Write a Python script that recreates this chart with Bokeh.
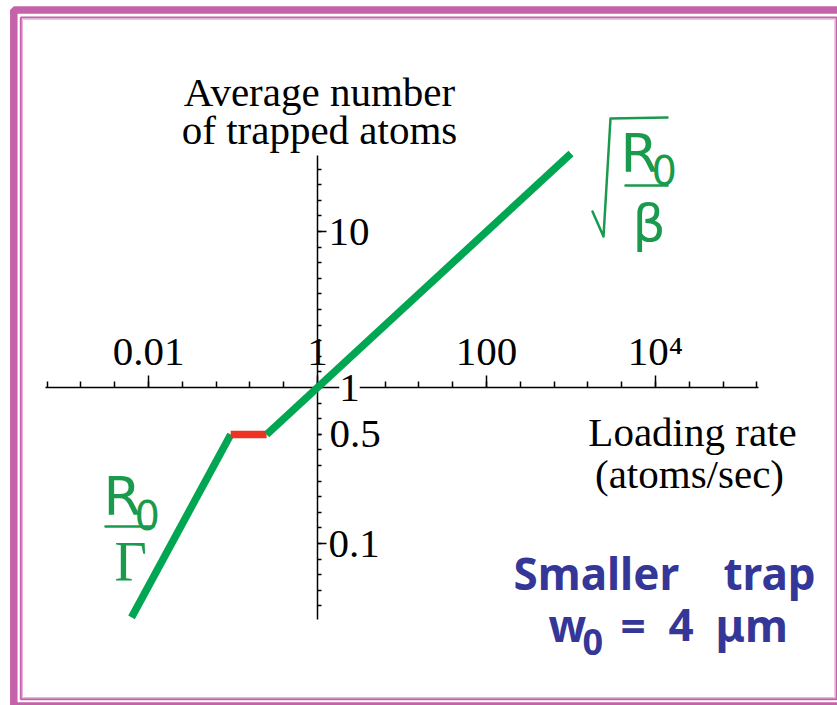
from bokeh.plotting import figure
from bokeh.models import LogAxis, FixedTicker, Range1d, Label, BoxAnnotation
from bokeh.embed import file_html
from bokeh.resources import INLINE

# Average number of trapped atoms vs. loading rate (atoms/sec)
# collisional-blockade regime: N grows linearly, N = R0 / Gamma
rate_linear = [0.0063, 0.094]
atoms_linear = [0.0336, 0.5]
# blockade plateau at N = 0.5
rate_plateau = [0.094, 0.25]
atoms_plateau = [0.5, 0.5]
# high-rate regime: N = sqrt(R0 / beta)
rate_sqrt = [0.25, 1000]
atoms_sqrt = [0.5, 31.6]

x_major = [0.01, 1, 100, 10000]
x_labels = ["0.01", "1", "100", "10⁴"]
y_major = [0.1, 10]
y_labels = ["0.1", "10"]
y_extra = [0.5]
y_extra_labels = ["0.5"]

# ---- page geometry (pixels) ----
W, H = 837, 705
ORIGIN_X, ORIGIN_Y = 317, 387      # where x = 1 and y = 1 sit
X_DEC, Y_DEC = 84.5, 156           # pixels per decade


def px2x(px):
    return 10 ** ((px - ORIGIN_X) / X_DEC)


def px2y(py):
    return 10 ** ((ORIGIN_Y - py) / Y_DEC)


GREEN = "#00a651"
TEXT_GREEN = "#1a9a4c"
RED = "#ee3224"
BLUE = "#343797"
PINK = "#c463a9"
SERIF = "Liberation Serif"
# distance (in em) from the middle of a text box down to its baseline
MID_TO_BASE = {"Liberation Serif": 0.3375, "DejaVu Sans": 0.346, "Noto Sans": 0.388}

p = figure(width=W, height=H, output_backend="svg", toolbar_location=None,
           x_axis_type="log", y_axis_type="log",
           x_range=Range1d(px2x(0), px2x(W)), y_range=Range1d(px2y(H), px2y(0)),
           x_axis_location=None, y_axis_location=None, title=None,
           background_fill_color="white", border_fill_color="white")
p.min_border = 0
p.outline_line_color = None
p.grid.visible = False

AXIS_STYLE = dict(axis_line_width=1.5, axis_line_color="black",
                  major_tick_line_width=1.5, major_tick_line_color="black",
                  minor_tick_line_width=1.5, minor_tick_line_color="black",
                  major_tick_in=0, minor_tick_in=0,
                  major_label_text_font=SERIF, major_label_text_font_size="41px",
                  major_label_text_color="black")

# ---- crossing log axes through (1, 1) ----
xa = LogAxis(fixed_location=1, bounds=(10 ** -3.22, 10 ** 5.22),
             ticker=FixedTicker(ticks=x_major,
                                minor_ticks=[10 ** (k * 0.4) for k in range(-8, 14)]),
             major_label_overrides=dict(zip(x_major, x_labels)),
             major_tick_out=12, minor_tick_out=6, major_label_standoff=2, **AXIS_STYLE)
p.add_layout(xa, "above")

ya = LogAxis(fixed_location=1, bounds=(10 ** -1.49, 10 ** 1.49),
             ticker=FixedTicker(ticks=y_major,
                                minor_ticks=[10 ** (k / 10) for k in range(-14, 15)]),
             major_label_overrides=dict(zip(y_major, y_labels)),
             major_tick_out=9, minor_tick_out=4, major_label_standoff=2, **AXIS_STYLE)
p.add_layout(ya, "right")

ya_half = LogAxis(fixed_location=1, ticker=FixedTicker(ticks=y_extra, minor_ticks=[]),
                  major_label_overrides=dict(zip(y_extra, y_extra_labels)),
                  major_tick_out=4, minor_tick_out=0, major_label_standoff=8, **AXIS_STYLE)
ya_half.axis_line_color = None
p.add_layout(ya_half, "right")

# the y-axis "1" sits on the x-axis line, on a white patch
p.add_layout(Label(x=1, y=1, x_offset=32, text="1", text_align="center",
                   text_baseline="middle", text_font=SERIF, text_font_size="41px",
                   text_color="black", background_fill_color="white"))

# ---- curves ----
p.line(rate_linear, atoms_linear, line_width=7.5, line_color=GREEN, line_cap="butt", level="overlay")
p.line(rate_plateau, atoms_plateau, line_width=7.5, line_color=RED, line_cap="butt", level="overlay")
p.line(rate_sqrt, atoms_sqrt, line_width=7.5, line_color=GREEN, line_cap="butt", level="overlay")


def txt(px, base_py, s, size, font=SERIF, color="black", align="left", style="normal"):
    """Place text so that its baseline sits at pixel row base_py."""
    mid_py = base_py - MID_TO_BASE[font] * size
    p.add_layout(Label(x=px2x(px), y=px2y(mid_py), text=s, text_font=font,
                       text_font_size=f"{size}px", text_color=color,
                       text_align=align, text_baseline="middle",
                       text_font_style=style))


def stroke(pts, color, width):
    p.line([px2x(a) for a, b in pts], [px2y(b) for a, b in pts],
           line_color=color, line_width=width, line_cap="round", line_join="round")


# axis titles
txt(319, 105, "Average number", 41, align="center")
txt(319, 143, "of trapped atoms", 41, align="center")
txt(692, 445, "Loading rate", 41, align="center")
txt(689, 487, "(atoms/sec)", 41, align="center")

# R0 / Gamma
txt(103, 515, "R", 54, font="DejaVu Sans", color=TEXT_GREEN)
txt(134, 528, "0", 40, font="DejaVu Sans", color=TEXT_GREEN)
stroke([(105, 526), (153, 526)], TEXT_GREEN, 2.5)
txt(114, 580, "Γ", 56, color=TEXT_GREEN)

# sqrt(R0 / beta)
stroke([(592, 211), (603, 236), (610, 118), (667, 117)], TEXT_GREEN, 2.5)
txt(620, 172, "R", 54, font="DejaVu Sans", color=TEXT_GREEN)
txt(651, 183, "0", 40, font="DejaVu Sans", color=TEXT_GREEN)
stroke([(625, 185), (667, 185)], TEXT_GREEN, 2.5)
txt(632, 240, "β", 52, font="DejaVu Sans", color=TEXT_GREEN)

# trap annotation
txt(513, 590, "Smaller", 44, font="Noto Sans", color=BLUE, style="bold")
txt(723, 590, "trap", 44, font="Noto Sans", color=BLUE, style="bold")
txt(548, 642, "w", 44, font="Noto Sans", color=BLUE, style="bold")
txt(582, 655, "0", 36, font="Noto Sans", color=BLUE, style="bold")
txt(620, 642, "=", 44, font="Noto Sans", color=BLUE, style="bold")
txt(668, 642, "4", 44, font="Noto Sans", color=BLUE, style="bold")
txt(715, 642, "μm", 44, font="Noto Sans", color=BLUE, style="bold")

# double slide frame
p.add_layout(BoxAnnotation(left=px2x(13.3), right=px2x(846), top=px2y(9.5), bottom=px2y(705.5),
                           fill_color=None, line_color=PINK, line_alpha=1, line_width=7.5))
p.add_layout(BoxAnnotation(left=px2x(20.3), right=px2x(836), top=px2y(17), bottom=px2y(698.7),
                           fill_color=None, line_color=PINK, line_alpha=1, line_width=2))
p.add_layout(BoxAnnotation(left=px2x(22), right=px2x(834.3), top=px2y(18.8), bottom=px2y(697),
                           fill_color=None, line_color="#e9b3d9", line_alpha=1, line_width=1))

open("out.html", "w").write(file_html(p, INLINE))
